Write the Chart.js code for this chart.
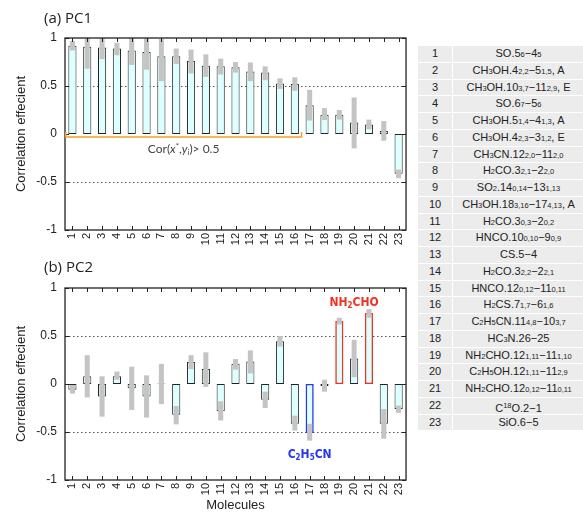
<!DOCTYPE html>
<html>
<head>
<meta charset="utf-8">
<script src="https://cdn.jsdelivr.net/npm/chart.js@4.4.0/dist/chart.umd.min.js"></script>
<style>
  body { margin:0; background:#fff; width:583px; height:513px; overflow:hidden; position:relative; font-family:"Liberation Sans", Arial, sans-serif; }
  .wrap { position:absolute; left:0; width:415px; }
  #wa { top:0; height:255px; }
  #wb { top:255px; height:258px; }
  .ptitle { position:absolute; left:44px; font:15px "Open Sans", sans-serif; color:#222; z-index:2; }
  #tbl { position:absolute; left:418px; top:46px; display:grid; grid-template-columns:34px 131px; grid-auto-rows:15.76px; gap:1px; }
  #tbl div { background:#ececec; font-size:11px; color:#222; text-align:center; line-height:15.76px; white-space:nowrap; }
  .s { font-size:7.5px; }
  .u { font-size:7.5px; vertical-align:4px; }
</style>
</head>
<body>
<div class="ptitle" style="top:7px">(a) PC1</div>
<div class="ptitle" style="top:256px">(b) PC2</div>
<div class="wrap" id="wa"><canvas id="pc1" width="415" height="255"></canvas></div>
<div class="wrap" id="wb"><canvas id="pc2" width="415" height="258"></canvas></div>
<div id="tbl"></div>
<script>
// categories (molecule number) and transitions for the table
const cats = Array.from({length: 23}, (_, i) => String(i + 1));
const molecules = [
  'SO.5_{6}−4_{5}', 'CH_{3}OH.4_{2,2}−5_{1,5}, A', 'CH_{3}OH.10_{3,7}−11_{2,9}, E', 'SO.6_{7}−5_{6}',
  'CH_{3}OH.5_{1,4}−4_{1,3}, A', 'CH_{3}OH.4_{2,3}−3_{1,2}, E', 'CH_{3}CN.12_{2,0}−11_{2,0}', 'H_{2}CO.3_{2,1}−2_{2,0}',
  'SO_{2}.14_{0,14}−13_{1,13}', 'CH_{3}OH.18_{3,16}−17_{4,13}, A', 'H_{2}CO.3_{0,3}−2_{0,2}', 'HNCO.10_{0,10}−9_{0,9}',
  'CS.5−4', 'H_{2}CO.3_{2,2}−2_{2,1}', 'HNCO.12_{0,12}−11_{0,11}', 'H_{2}CS.7_{1,7}−6_{1,6}',
  'C_{2}H_{5}CN.11_{4,8}−10_{3,7}', 'HC_{3}N.26−25', 'NH_{2}CHO.12_{1,11}−11_{1,10}', 'C_{2}H_{5}OH.12_{1,11}−11_{2,9}',
  'NH_{2}CHO.12_{0,12}−11_{0,11}', 'C^{18}O.2−1', 'SiO.6−5'
];

// PC1 correlation and range (grey)
const pc1 = [0.92, 0.91, 0.90, 0.89, 0.87, 0.855, 0.81, 0.81, 0.76, 0.71, 0.705, 0.695, 0.65, 0.64, 0.525, 0.52, 0.30, 0.20, 0.20, 0.12, 0.10, 0.03, -0.415];
const pc1Lo = [0.87, 0.68, 0.78, 0.82, 0.72, 0.67, 0.55, 0.73, 0.63, 0.595, 0.62, 0.64, 0.55, 0.56, 0.47, 0.45, 0.14, 0.145, 0.15, -0.15, 0.05, -0.07, -0.46];
const pc1Hi = [0.97, 1.0, 1.0, 0.95, 1.0, 1.0, 0.99, 0.89, 0.88, 0.83, 0.785, 0.75, 0.745, 0.705, 0.58, 0.59, 0.46, 0.27, 0.25, 0.38, 0.15, 0.135, -0.37];

// PC2 correlation and range (grey)
const pc2 = [-0.06, 0.08, -0.13, 0.08, -0.045, -0.13, 0.005, -0.32, 0.23, 0.155, -0.285, 0.21, 0.235, -0.165, 0.445, -0.415, -0.51, -0.02, 0.655, 0.265, 0.74, -0.415, -0.26];
const pc2Lo = [-0.10, -0.14, -0.34, 0.045, -0.27, -0.35, -0.21, -0.42, 0.155, -0.03, -0.38, 0.15, 0.11, -0.25, 0.39, -0.485, -0.59, -0.08, 0.62, 0.07, 0.69, -0.57, -0.30];
const pc2Hi = [-0.01, 0.30, 0.08, 0.13, 0.18, 0.09, 0.21, -0.23, 0.30, 0.33, -0.18, 0.26, 0.35, -0.08, 0.50, -0.33, -0.415, 0.045, 0.69, 0.46, 0.78, -0.26, -0.225];

const yTicks = [-1, -0.5, 0, 0.5, 1];
const refLines = [-0.5, 0.5];
const strongRange = [0, 15];   // molecules 1..16 have Cor > 0.5
const RED = '#ee3322', BLUE = '#2438ee';
const pc2Edges = cats.map((c, i) => i === 16 ? BLUE : (i === 18 || i === 20) ? RED : '#222');
const pc2Callouts = [
  { parts: [['NH', 0], ['2', 1], ['CHO', 0]], cat: 19, y: 0.86, color: RED },
  { parts: [['C', 0], ['2', 1], ['H', 0], ['5', 1], ['CN', 0]], cat: 16, y: -0.73, color: BLUE }
];
// [text, 0 normal / 1 sub / 2 sup, italic]
const corLabel = [['Cor(', 0], ['x', 0, 1], ['*', 2], [',', 0], ['y', 0, 1], ['i', 1, 1], [')> 0.5', 0]];

// table
const tbl = document.getElementById('tbl');
molecules.forEach((m, i) => {
  const html = m.replace(/_\{([^}]*)\}/g, '<span class="s">$1</span>')
                .replace(/\^\{([^}]*)\}/g, '<span class="u">$1</span>');
  tbl.insertAdjacentHTML('beforeend', `<div>${cats[i]}</div><div>${html}</div>`);
});

// dotted ref lines, box and inward ticks (gnuplot style)
const framePlugin = {
  id: 'frame',
  beforeDatasetsDraw(chart) {
    const { ctx, chartArea: a, scales: { y } } = chart;
    ctx.save();
    ctx.strokeStyle = '#555';
    ctx.lineWidth = 1;
    ctx.setLineDash([1.5, 2.5]);
    refLines.forEach(v => {
      const py = Math.round(y.getPixelForValue(v)) + 0.5;
      ctx.beginPath(); ctx.moveTo(a.left, py); ctx.lineTo(a.right, py); ctx.stroke();
    });
    ctx.restore();
  },
  afterDatasetsDraw(chart) {
    const { ctx, chartArea: a, scales: { x, y } } = chart;
    ctx.save();
    ctx.strokeStyle = '#222';
    ctx.lineWidth = 1.3;
    ctx.strokeRect(a.left, a.top, a.right - a.left, a.bottom - a.top);
    ctx.lineWidth = 1;
    ctx.beginPath();
    cats.forEach((c, i) => {
      const px = Math.round(x.getPixelForTick(i)) + 0.5;
      ctx.moveTo(px, a.bottom); ctx.lineTo(px, a.bottom - 4);
      ctx.moveTo(px, a.top); ctx.lineTo(px, a.top + 4);
    });
    yTicks.forEach(v => {
      const py = Math.round(y.getPixelForValue(v)) + 0.5;
      ctx.moveTo(a.left, py); ctx.lineTo(a.left + 4, py);
      ctx.moveTo(a.right, py); ctx.lineTo(a.right - 4, py);
    });
    ctx.stroke();
    ctx.restore();
  }
};

// draw text made of [string, sub/sup, italic] parts centred at cx
function drawParts(ctx, parts, cx, cy, big, small, family, weight, color) {
  const fnt = (sz, it) => `${it ? 'italic ' : ''}${weight} ${sz}px ${family}`;
  let w = 0;
  parts.forEach(p => { ctx.font = fnt(p[1] ? small : big, p[2]); w += ctx.measureText(p[0]).width; });
  let px = cx - w / 2;
  ctx.fillStyle = color;
  ctx.textBaseline = 'alphabetic';
  ctx.textAlign = 'left';
  parts.forEach(p => {
    ctx.font = fnt(p[1] ? small : big, p[2]);
    const dy = p[1] === 1 ? 2 : p[1] === 2 ? -4 : 0;
    ctx.fillText(p[0], px, cy + big * 0.36 + dy);
    px += ctx.measureText(p[0]).width;
  });
}

const bracketPlugin = {
  id: 'bracket',
  afterDatasetsDraw(chart) {
    const { ctx, scales: { x, y } } = chart;
    const half = (x.getPixelForTick(1) - x.getPixelForTick(0)) * 0.45;
    const x1 = x.getPixelForTick(strongRange[0]) - half;
    const x2 = x.getPixelForTick(strongRange[1]) + half;
    const py = y.getPixelForValue(0) + 3;
    ctx.save();
    ctx.strokeStyle = '#f5a020';
    ctx.lineWidth = 1.5;
    ctx.beginPath();
    ctx.moveTo(x1, py - 5); ctx.lineTo(x1, py); ctx.lineTo(x2, py); ctx.lineTo(x2, py - 5);
    ctx.stroke();
    drawParts(ctx, corLabel, (x1 + x2) / 2, py + 12, 12, 8, 'Lato, sans-serif', 'normal', '#444');
    ctx.restore();
  }
};

const calloutPlugin = {
  id: 'callout',
  afterDatasetsDraw(chart) {
    const { ctx, scales: { x, y } } = chart;
    ctx.save();
    pc2Callouts.forEach(c => {
      drawParts(ctx, c.parts, x.getPixelForTick(c.cat), y.getPixelForValue(c.y), 12, 8,
        '"Liberation Sans Narrow", "DejaVu Sans Condensed", sans-serif', 'bold', c.color);
    });
    ctx.restore();
  }
};

function buildChart(id, vals, lo, hi, edges, padTop, xHeight, showX, extra) {
  return new Chart(document.getElementById(id), {
    type: 'bar',
    data: {
      labels: cats,
      datasets: [
        { data: lo.map((l, i) => [l, hi[i]]), backgroundColor: '#c4c4c4', borderWidth: 0,
          barPercentage: 0.34, categoryPercentage: 1, grouped: false, order: 0 },
        { data: vals, backgroundColor: '#ddffff', borderColor: edges,
          borderWidth: edges.map(c => c === '#222' ? 1 : 1.6), borderSkipped: false,
          barPercentage: 0.55, categoryPercentage: 1, grouped: false, order: 1 }
      ]
    },
    options: {
      responsive: false,
      animation: false,
      layout: { padding: { top: padTop, right: 8, left: 0, bottom: 0 } },
      plugins: { legend: { display: false }, tooltip: { enabled: false } },
      scales: {
        x: {
          grid: { display: false, drawTicks: false },
          border: { display: false },
          ticks: { autoSkip: false, minRotation: 90, maxRotation: 90, padding: 3, color: '#222',
                   font: { size: 11, family: '"Liberation Sans", Arial, sans-serif' } },
          title: { display: showX, text: 'Molecules', color: '#222', padding: { top: 0, bottom: 0 },
                   font: { size: 13, family: '"Liberation Sans", Arial, sans-serif' } },
          afterFit(s) { s.height = xHeight; }
        },
        y: {
          min: -1, max: 1,
          grid: { display: false, drawTicks: false },
          border: { display: false },
          afterBuildTicks(s) { s.ticks = yTicks.map(v => ({ value: v })); },
          ticks: { padding: 8, color: '#222', callback: v => String(v),
                   font: { size: 12, family: '"Liberation Sans", Arial, sans-serif' } },
          title: { display: true, text: 'Correlation effecient', color: '#222', padding: { top: 14, bottom: 0 },
                   font: { size: 13, family: '"Liberation Sans", Arial, sans-serif' } },
          afterFit(s) { s.width = 65; }
        }
      }
    },
    plugins: [framePlugin, extra]
  });
}

buildChart('pc1', pc1, pc1Lo, pc1Hi, cats.map(() => '#222'), 38, 25, false, bracketPlugin);
buildChart('pc2', pc2, pc2Lo, pc2Hi, pc2Edges, 33, 33, true, calloutPlugin);
</script>
</body>
</html>
